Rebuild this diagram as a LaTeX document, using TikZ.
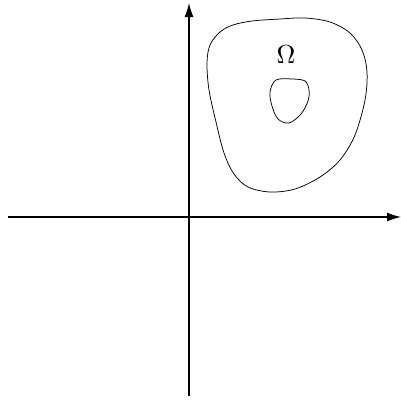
\documentclass[tikz,border=0pt]{standalone}
\usetikzlibrary{arrows.meta}
\begin{document}
\begin{tikzpicture}[x=1pt,y=-1pt,
  axis/.style={line width=1.3pt,-{Latex[length=14pt,width=9pt]}},
  region/.style={line width=0.75pt}]
\useasboundingbox (0,0) rectangle (401,402);
\coordinate (xl) at (8,217);
\coordinate (xr) at (401,217);
\coordinate (yb) at (189,396);
\coordinate (yt) at (189,3);
\draw[axis] (xl) -- (xr);
\draw[axis] (yb) -- (yt);
\draw[region] plot[smooth cycle, tension=0.55] coordinates {
  (220,32) (233,25) (252,21) (280,19) (305,18) (330,22) (350,33) (362,50) (367,72) (365,100) (355,135) (340,160) (320,177) (295,189) (270,192) (248,187) (234,174) (224,153) (216,122) (209,90) (207,63) (210,45)};
\draw[region] plot[smooth cycle, tension=0.55] coordinates {
  (276,80) (292,79) (305,81) (309,90) (308,101) (301,114) (289,123) (278,119) (272,106) (270,92)};
\node[scale=2.6] (omega) at (286,55) {$\Omega$};
\end{tikzpicture}
\end{document}
